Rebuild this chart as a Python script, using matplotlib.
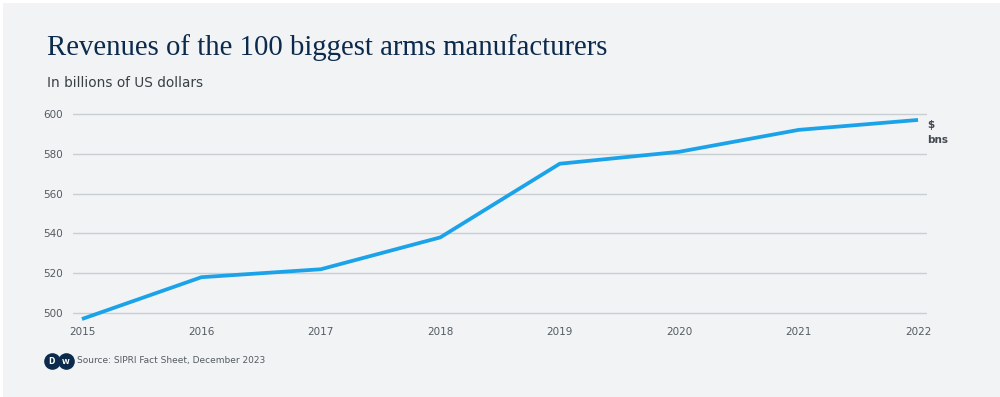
import matplotlib
matplotlib.use("Agg")
import matplotlib.pyplot as plt
from matplotlib.patches import Rectangle

OUT = "out.png"

years = [2015, 2016, 2017, 2018, 2019, 2020, 2021, 2022]
revenue = [497, 518, 522, 538, 575, 581, 592, 597]
yticks = [500, 520, 540, 560, 580, 600]

BG = "#f1f3f5"
NAVY = "#0c2a4b"
LINE = "#1aa3e8"
GRID = "#c9ced3"
TXT = "#555b61"

fig = plt.figure(figsize=(10, 3.97), dpi=100)
fig.patch.set_facecolor("white")
# grey card with a thin white edge top/left
fig.patches.append(Rectangle((0.003, 0), 0.997, 0.992, transform=fig.transFigure,
                             facecolor=BG, edgecolor="none", zorder=-10))

ax = fig.add_axes([0.073, 0.1914, 0.854, 0.5416])
ax.set_facecolor(BG)
ax.plot(years, revenue, color=LINE, lw=2.7, solid_capstyle="butt", zorder=3)
ax.set_xlim(2014.925, 2022.075)
ax.set_ylim(496, 604)
ax.set_yticks(yticks)
ax.set_xticks(years)
ax.grid(axis="y", color=GRID, lw=1)
ax.set_axisbelow(True)
for s in ax.spines.values():
    s.set_visible(False)
ax.tick_params(axis="both", length=0, labelsize=7.5, labelcolor=TXT)
ax.tick_params(axis="y", pad=7)
ax.tick_params(axis="x", pad=4)

# unit label at right end
ax.text(1.0, 0.935, "$\nbns", transform=ax.transAxes, ha="left", va="top",
        fontsize=7.5, color="#444a50", fontweight="bold", linespacing=1.6)

fig.text(0.047, 0.862, "Revenues of the 100 biggest arms manufacturers",
         family="Liberation Serif", fontsize=20.7, color=NAVY, va="baseline")
fig.text(0.047, 0.78, "In billions of US dollars", fontsize=9.8, color="#3a3f44",
         va="baseline")

# DW logo (two navy discs) + source line
logo = fig.add_axes([0.043, 0.07, 0.032, 0.04])
logo.axis("off")
logo.set_xlim(0, 3.2); logo.set_ylim(0, 1.3)
logo.scatter([0.85, 2.25], [0.65, 0.65], s=120, color=NAVY, zorder=1)
logo.text(0.85, 0.62, "D", color="white", fontsize=5.5, fontweight="bold",
          ha="center", va="center", zorder=2)
logo.text(2.25, 0.62, "W", color="white", fontsize=5, fontweight="bold",
          ha="center", va="center", zorder=2)
fig.text(0.077, 0.0907, "Source: SIPRI Fact Sheet, December 2023", fontsize=6.5,
         color=TXT, va="center")

fig.savefig(OUT, dpi=100, facecolor=fig.get_facecolor())
print("saved", OUT)
